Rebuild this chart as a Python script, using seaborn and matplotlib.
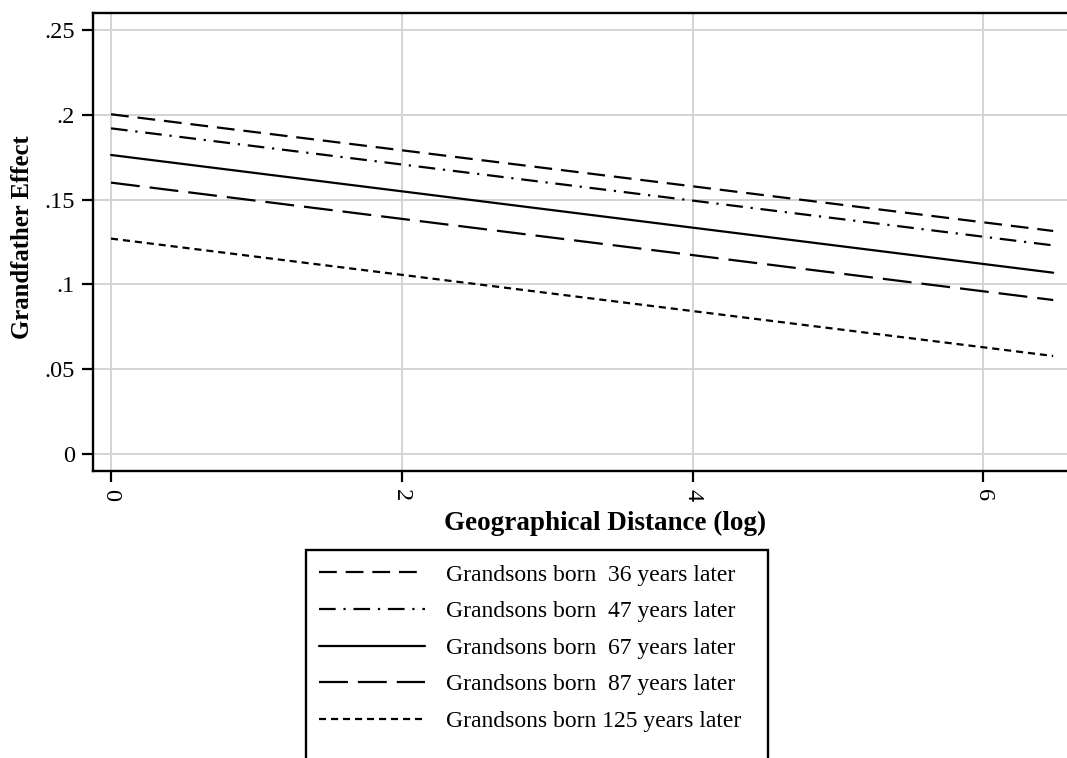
import matplotlib
matplotlib.use("Agg")
import matplotlib.pyplot as plt
import seaborn as sns
import pandas as pd
from matplotlib.patches import Rectangle
from matplotlib.lines import Line2D

# ---- data ----
series = ["Grandsons born  36 years later",
          "Grandsons born  47 years later",
          "Grandsons born  67 years later",
          "Grandsons born  87 years later",
          "Grandsons born 125 years later"]
x_points = [0.0, 6.48]
y_start = [0.2003, 0.192, 0.1763, 0.160, 0.127]
y_end = [0.1315, 0.123, 0.1069, 0.0908, 0.0578]
x_ticks = [0, 2, 4, 6]
y_ticks = [0, 0.05, 0.10, 0.15, 0.20, 0.25]
y_ticklabels = ["0", ".05", ".1", ".15", ".2", ".25"]

rows = []
for s, a, b in zip(series, y_start, y_end):
    rows.append({"x": x_points[0], "y": a, "series": s})
    rows.append({"x": x_points[1], "y": b, "series": s})
df = pd.DataFrame(rows)

sns.set_theme(style="white")
plt.rcParams["font.family"] = ["Liberation Serif", "DejaVu Serif"]
plt.rcParams["text.color"] = "black"
plt.rcParams["axes.labelcolor"] = "black"
plt.rcParams["xtick.color"] = "black"
plt.rcParams["ytick.color"] = "black"

W, H = 1067, 758
fig = plt.figure(figsize=(W / 100, H / 100), dpi=100)
ax = fig.add_axes([93 / W, 1 - 471 / H, 1 - 93 / W, (471 - 13) / H])

dash_map = {
    series[0]: (8, 4),
    series[1]: (7.5, 3.5, 1, 3.5),
    series[2]: "",
    series[3]: (13, 4.5),
    series[4]: (3.2, 2.2),
}
lw = 1.6
sns.lineplot(data=df, x="x", y="y", style="series", dashes=dash_map,
             color="black", linewidth=lw, ax=ax, legend=False, zorder=3)

ax.set_xlim(-0.124, (W - 111) / 145.4)
ax.set_ylim(-0.0100, 0.2600)
ax.set_xticks(x_ticks)
ax.set_xticklabels([str(t) for t in x_ticks], rotation=-90, fontsize=17.5)
ax.set_yticks(y_ticks)
ax.set_yticklabels(y_ticklabels, fontsize=17.5)
ax.grid(True, color="#d3d3d3", linewidth=1.4, zorder=0)
ax.tick_params(axis="both", direction="out", length=8, width=1.6,
               color="black", labelcolor="black", pad=5, left=True, bottom=True)
for side in ["left", "top", "bottom"]:
    ax.spines[side].set_visible(True)
    ax.spines[side].set_color("black")
    ax.spines[side].set_linewidth(1.7)
ax.spines["right"].set_visible(False)

ax.set_xlabel("Geographical Distance (log)", fontsize=19.5, fontweight="bold", color="black")
ax.set_ylabel("Grandfather Effect", fontsize=17.8, fontweight="bold", color="black")
ax.xaxis.set_label_coords((605 - 93) / (W - 93), -(523 - 471) / (471 - 13), transform=ax.transAxes)
ax.yaxis.set_label_coords(-(93 - 23) / (W - 93), (471 - 237.5) / (471 - 13), transform=ax.transAxes)
ax.xaxis.label.set_va("center")
ax.yaxis.label.set_va("center")

handles = [Line2D([0], [0], color="black", linewidth=lw,
                  linestyle=((0, dash_map[s]) if dash_map[s] else "-"))
           for s in series]
leg = fig.legend(handles, series, loc="upper left",
                 bbox_to_anchor=(319 / W, 1 - 564 / H),
                 frameon=False, fontsize=17, handlelength=4.5,
                 handletextpad=0.9, labelspacing=0.64, borderpad=0,
                 borderaxespad=0)
for t in leg.get_texts():
    t.set_color("black")
fig.patches.append(Rectangle((306 / W, -0.05), (768 - 306) / W, 0.05 + (758 - 550) / H,
                             transform=fig.transFigure, fill=False,
                             edgecolor="black", linewidth=1.7, clip_on=False))

fig.savefig("out.png", dpi=100, facecolor="white")
